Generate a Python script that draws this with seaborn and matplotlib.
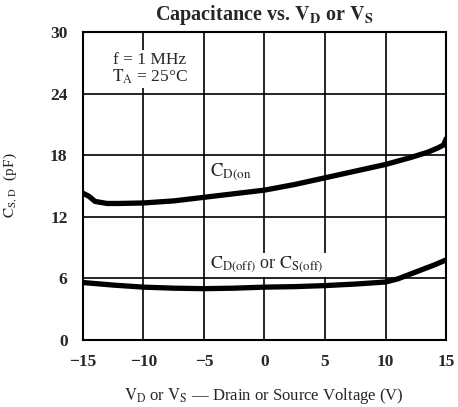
import numpy as np
import pandas as pd
import matplotlib
matplotlib.use("Agg")
import matplotlib.pyplot as plt
import seaborn as sns

# Data
v_on = [-15, -14.5, -14, -13, -12, -10, -7.5, -5, -2.5, 0, 2.5, 5, 7.5, 10, 12, 13.5, 14.3, 14.8, 15]
c_on = [14.3, 14.0, 13.5, 13.3, 13.3, 13.35, 13.55, 13.9, 14.25, 14.6, 15.15, 15.8, 16.45, 17.1, 17.75, 18.3, 18.7, 19.0, 19.6]
v_off = [-15, -12.5, -10, -7.5, -5, -2.5, 0, 2.5, 5, 7.5, 10, 11, 12, 13, 14, 15]
c_off = [5.6, 5.35, 5.15, 5.05, 5.0, 5.05, 5.15, 5.2, 5.3, 5.45, 5.65, 5.95, 6.4, 6.85, 7.3, 7.8]
x_ticks = [-15, -10, -5, 0, 5, 10, 15]
y_ticks = [0, 6, 12, 18, 24, 30]

df = pd.concat([
    pd.DataFrame({"V": v_on, "C": c_on, "series": "on"}),
    pd.DataFrame({"V": v_off, "C": c_off, "series": "off"}),
])

sns.set_theme(style="white")
plt.rcParams["font.family"] = ["Liberation Serif", "DejaVu Serif"]
plt.rcParams["mathtext.fontset"] = "stix"

fig = plt.figure(figsize=(4.58, 4.07), dpi=100)
ax = fig.add_axes([0.181, 0.1646, 0.793, 0.7567])

# grid
for yv in y_ticks[1:-1]:
    ax.axhline(yv, color="black", lw=1.2, zorder=1)
for xv in x_ticks[1:-1]:
    ax.axvline(xv, color="black", lw=1.2, zorder=1)

sns.lineplot(data=df, x="V", y="C", units="series", estimator=None,
             color="black", lw=3.8, ax=ax, zorder=3, sort=False)
ax.set_xlabel("")
ax.set_ylabel("")

ax.set_xlim(-15, 15)
ax.set_ylim(0, 30)
ax.set_xticks(x_ticks)
ax.set_yticks(y_ticks)
ax.set_xticklabels([f"\u2212{abs(t)}" if t < 0 else str(t) for t in x_ticks],
                   fontsize=12.5, fontweight="bold")
ax.set_yticklabels([str(t) for t in y_ticks], fontsize=12.5, fontweight="bold")
ax.tick_params(axis="x", length=0, pad=10)
ax.tick_params(axis="y", length=0, pad=11)
for s in ax.spines.values():
    s.set_color("black")
    s.set_linewidth(1.5)

box = dict(facecolor="white", edgecolor="none", pad=1.5)
ax.text(-9.5, 27.3, "f = 1 MHz", ha="center", va="center", fontsize=12.5, bbox=box, zorder=4)
ax.text(-9.5, 25.6, r"$\mathrm{T_A}$ = 25°C", ha="center", va="center", fontsize=12.5, bbox=box, zorder=4)
ax.text(-2.8, 16.3, r"$\mathrm{C_{D(on}}$", ha="center", va="center", fontsize=13.5, bbox=box, zorder=4)
ax.text(0.2, 7.3, r"$\mathrm{C_{D(off)}}$ or $\mathrm{C_{S(off)}}$", ha="center", va="center",
        fontsize=13, bbox=box, zorder=4)

fig.text(264 / 458, 1 - 15 / 407, r"Capacitance vs. $\mathbf{V_D}$ or $\mathbf{V_S}$",
         fontsize=14.5, fontweight="bold", ha="center", va="center")
fig.text(264 / 458, 1 - 396 / 407,
         r"$\mathrm{V_D}$ or $\mathrm{V_S}$ — Drain or Source Voltage (V)",
         fontsize=12, ha="center", va="center")
fig.text(10 / 458, 1 - 185 / 407, r"$\mathrm{C_{S,\,D}}$  (pF)", fontsize=11,
         rotation=90, ha="center", va="center")

fig.savefig("out.png", dpi=100)
